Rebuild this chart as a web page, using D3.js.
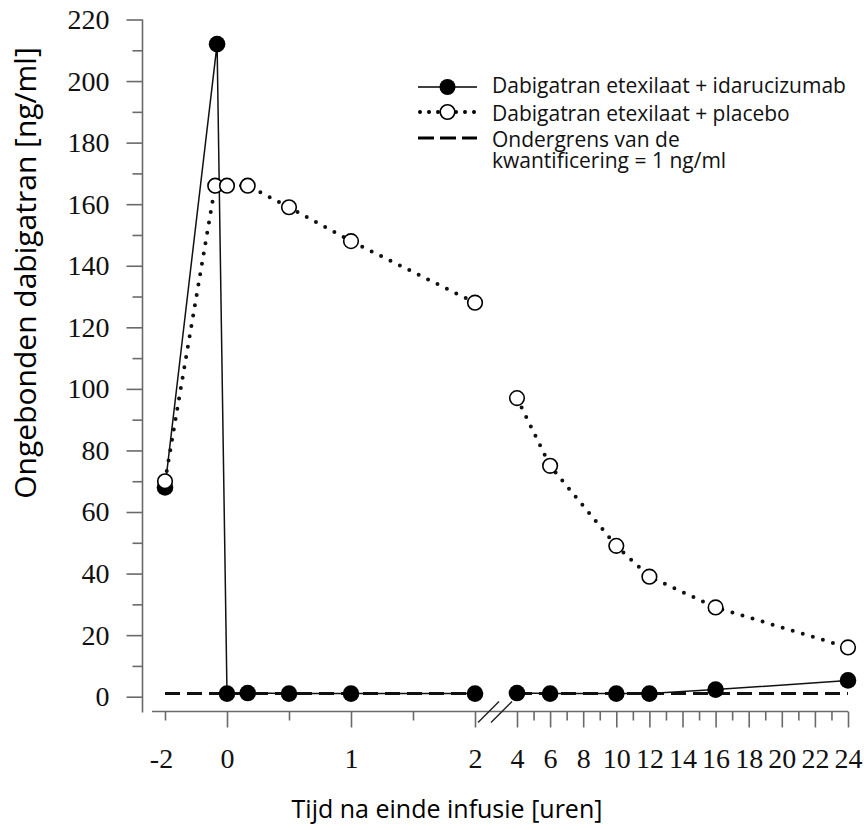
<!DOCTYPE html>
<html>
<head>
<meta charset="utf-8">
<script src="https://cdn.jsdelivr.net/npm/d3@7"></script>
<style>
  body { margin: 0; background: #fff; }
</style>
</head>
<body>
<div id="chart"></div>
<script>
const width = 864
const height = 830

// values (time in hours, concentration in ng/ml)
const timesIdaru = [-2, -0.32, 0, 0.167, 0.5, 1, 2, 4, 6, 10, 12, 16, 24]
const valuesIdaru = [68, 212, 1, 1.2, 1, 1, 1, 1.2, 1, 1, 1, 2.3, 5.3]
const timesPlacebo = [-2, -0.38, 0, 0.167, 0.5, 1, 2, 4, 6, 10, 12, 16, 24]
const valuesPlacebo = [70, 166, 166, 166, 159, 148, 128, 97, 75, 49, 39, 29, 16]
const lloqValue = 1
const lloqTimes = [-2, 2, 4, 24]

const yTicks = [0, 20, 40, 60, 80, 100, 120, 140, 160, 180, 200, 220]
const yMinorTicks = [10, 30, 50, 70, 90, 110, 130, 150, 170, 190, 210]
const xLabelTicks = [-2, 0, 1, 2, 4, 6, 8, 10, 12, 14, 16, 18, 20, 22, 24]
const xMajorTicks = [0, 1, 2, 4, 6, 8, 10, 12, 14, 16, 18, 20, 22, 24]
const xMinorTicks = [-2, 0.5, 1.5, 5, 7, 9, 11, 13, 15, 17, 19, 21, 23]

const legendLabels = [
    ["Dabigatran etexilaat + idarucizumab"],
    ["Dabigatran etexilaat + placebo"],
    ["Ondergrens van de", "kwantificering = 1 ng/ml"]
]
const xTitle = "Tijd na einde infusie [uren]"
const yTitle = "Ongebonden dabigatran [ng/ml]"

const axisColor = "#6a6a6a"
const sans = "'Open Sans', 'Noto Sans', sans-serif"
const serif = "'Liberation Serif', 'Times New Roman', serif"

const axisX = 142.5
const axisY = 711.5

const svg = d3.select("div#chart").append("svg").attr("width", width).attr("height", height)

// broken time axis: -2..2 h on the left, 4..24 h on the right
const x = d3.scaleLinear().domain([-2, 0, 2, 4, 24]).range([165, 227, 475, 517, 848])
const y = d3.scaleLinear().domain([0, 220]).range([696.7, 19.5])

const idaru = timesIdaru.map((t, i) => ({t: t, v: valuesIdaru[i]}))
const placebo = timesPlacebo.map((t, i) => ({t: t, v: valuesPlacebo[i]}))
const lloq = lloqTimes.map(t => ({t: t, v: lloqValue}))

const beforeBreak = d => d.filter(p => p.t <= 2)
const afterBreak = d => d.filter(p => p.t >= 4)

// axes
const yAxisGroup = svg.append("g").attr("id", "yAxisGroup").attr("transform", `translate(${axisX}, 0)`)
yAxisGroup.append("g").call(d3.axisLeft(y).tickValues(yTicks).tickSize(16).tickPadding(17))
yAxisGroup.append("g").call(d3.axisLeft(y).tickValues(yMinorTicks).tickSize(10).tickFormat(""))
yAxisGroup.append("line")
    .attr("x1", 0).attr("x2", 0)
    .attr("y1", y(220)).attr("y2", axisY + 1)

const xAxisGroup = svg.append("g").attr("id", "xAxisGroup").attr("transform", `translate(0, ${axisY})`)
xAxisGroup.append("g").call(d3.axisBottom(x).tickValues(xMajorTicks).tickSize(16).tickFormat(""))
xAxisGroup.append("g").call(d3.axisBottom(x).tickValues(xMinorTicks).tickSize(9).tickFormat(""))
xAxisGroup.append("g").attr("class", "labels")
    .call(d3.axisBottom(x).tickValues(xLabelTicks).tickSize(0).tickPadding(36.5).tickFormat(d => String(d)))
xAxisGroup.append("line")
    .attr("x1", x(-2) - 13).attr("x2", x(24))
    .attr("y1", 0).attr("y2", 0)

svg.selectAll("#xAxisGroup .domain, #yAxisGroup .domain").remove()
svg.selectAll("#xAxisGroup line, #yAxisGroup line")
    .attr("stroke", axisColor).attr("stroke-width", 1.6)
svg.selectAll("#xAxisGroup .labels .tick line").remove()
svg.selectAll("#xAxisGroup text, #yAxisGroup text")
    .attr("fill", "#111")
    .style("font-family", serif)
    .style("font-size", "28px")
// the "-2" label sits a little left of its tick in the original
svg.selectAll("#xAxisGroup .labels .tick text").filter(d => d < 0).attr("dx", -4)

// break marks
const breakMid = (x(2) + x(4)) / 2
const breakGroup = svg.append("g").attr("id", "breakGroup")
;[-7, 6].forEach(off => {
    breakGroup.append("line")
        .attr("x1", breakMid + off - 11).attr("y1", axisY + 11)
        .attr("x2", breakMid + off + 10).attr("y2", axisY - 10)
        .attr("stroke", "#222").attr("stroke-width", 1.5)
})

// lines
const elementGroup = svg.append("g").attr("id", "elementGroup")
const lineFunc = d3.line().x(d => x(d.t)).y(d => y(d.v))

;[beforeBreak, afterBreak].forEach(part => {
    elementGroup.append("path")
        .attr("d", lineFunc(part(lloq)))
        .attr("fill", "none")
        .attr("stroke", "#111")
        .attr("stroke-width", 3)
        .attr("stroke-dasharray", "15 7")

    elementGroup.append("path")
        .attr("d", lineFunc(part(idaru)))
        .attr("fill", "none")
        .attr("stroke", "#111")
        .attr("stroke-width", 1.5)

    elementGroup.append("path")
        .attr("d", lineFunc(part(placebo)))
        .attr("fill", "none")
        .attr("stroke", "#111")
        .attr("stroke-width", 4)
        .attr("stroke-linecap", "round")
        .attr("stroke-dasharray", "0 10.5")
})

// markers
elementGroup.selectAll("circle.idaru").data(idaru).enter().append("circle")
    .attr("class", "idaru")
    .attr("cx", d => x(d.t))
    .attr("cy", d => y(d.v))
    .attr("r", 8.3)
    .attr("fill", "#000")

elementGroup.selectAll("circle.placebo").data(placebo).enter().append("circle")
    .attr("class", "placebo")
    .attr("cx", d => x(d.t))
    .attr("cy", d => y(d.v))
    .attr("r", 7.3)
    .attr("fill", "#fff")
    .attr("stroke", "#000")
    .attr("stroke-width", 1.6)

// axis titles
svg.append("text")
    .attr("x", 447).attr("y", 818)
    .attr("text-anchor", "middle")
    .style("font-family", sans).style("font-size", "25px")
    .text(xTitle)

svg.append("text")
    .attr("transform", "translate(36, 273) rotate(-90)")
    .attr("text-anchor", "middle")
    .style("font-family", sans).style("font-size", "30px")
    .text(yTitle)

// legend
const legend = svg.append("g").attr("id", "legend")
const legendY = [87, 112, 138]
const symX = [418, 477]
const symMid = (symX[0] + symX[1]) / 2

legend.append("line")
    .attr("x1", symX[0]).attr("x2", symX[1]).attr("y1", legendY[0]).attr("y2", legendY[0])
    .attr("stroke", "#000").attr("stroke-width", 1.5)
legend.append("circle").attr("cx", symMid).attr("cy", legendY[0]).attr("r", 8).attr("fill", "#000")

legend.append("line")
    .attr("x1", symX[0] + 2).attr("x2", symX[1]).attr("y1", legendY[1]).attr("y2", legendY[1])
    .attr("stroke", "#000").attr("stroke-width", 4)
    .attr("stroke-linecap", "round").attr("stroke-dasharray", "0 9")
legend.append("circle").attr("cx", symMid).attr("cy", legendY[1]).attr("r", 7.3)
    .attr("fill", "#fff").attr("stroke", "#000").attr("stroke-width", 1.6)

legend.append("line")
    .attr("x1", symX[0]).attr("x2", symX[1]).attr("y1", legendY[2]).attr("y2", legendY[2])
    .attr("stroke", "#000").attr("stroke-width", 3).attr("stroke-dasharray", "16 6")

const textBase = [93, 121, 146.5]
legendLabels.forEach((lines, i) => {
    const t = legend.append("text")
        .attr("x", 492).attr("y", textBase[i])
        .style("font-family", sans).style("font-size", "21px")
        .attr("fill", "#111")
    lines.forEach((s, j) => {
        t.append("tspan").attr("x", 492).attr("dy", j == 0 ? 0 : 21.5).text(s)
    })
})
</script>
</body>
</html>
